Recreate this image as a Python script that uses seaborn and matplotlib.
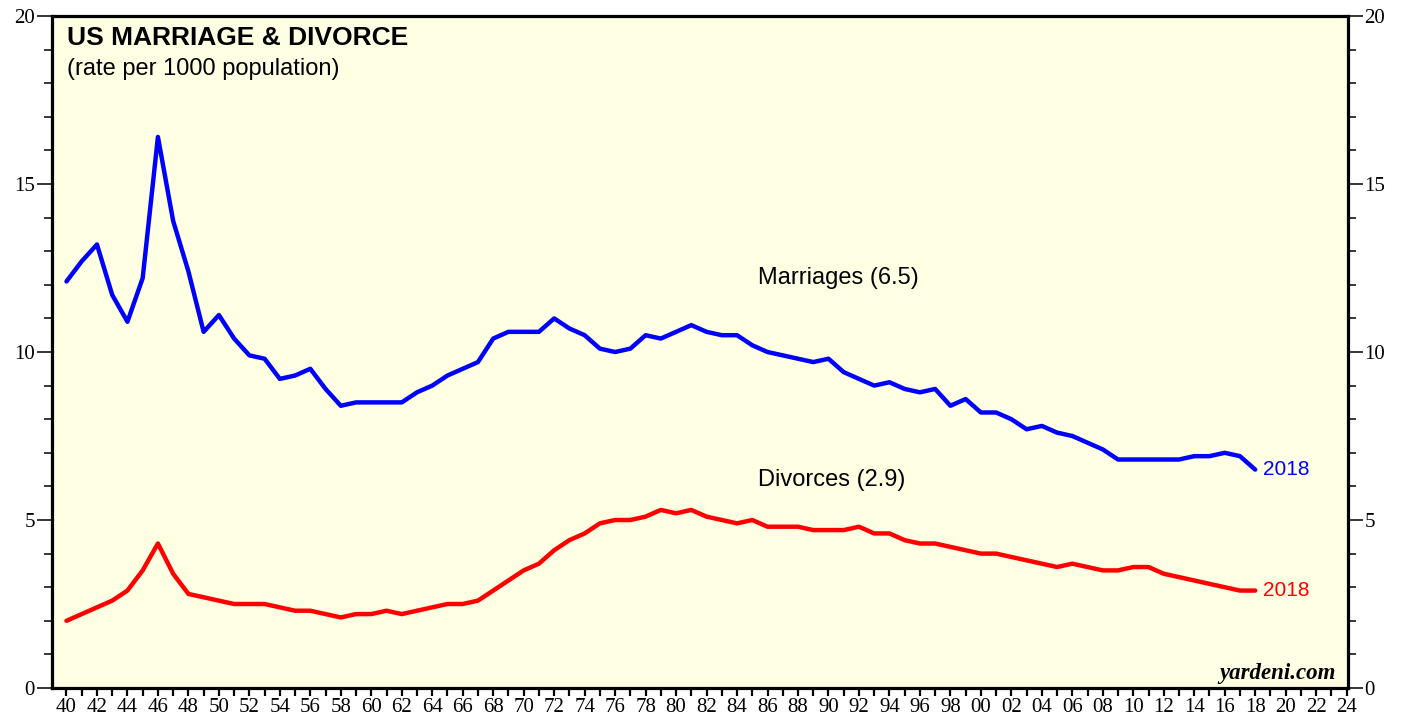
import matplotlib
matplotlib.use("Agg")
import matplotlib.pyplot as plt
from matplotlib.ticker import MultipleLocator, FuncFormatter
import seaborn as sns
import pandas as pd

years = list(range(1940, 2019))
marriages = [12.1, 12.7, 13.2, 11.7, 10.9, 12.2, 16.4, 13.9, 12.4, 10.6,
             11.1, 10.4, 9.9, 9.8, 9.2, 9.3, 9.5, 8.9, 8.4, 8.5,
             8.5, 8.5, 8.5, 8.8, 9.0, 9.3, 9.5, 9.7, 10.4, 10.6,
             10.6, 10.6, 11.0, 10.7, 10.5, 10.1, 10.0, 10.1, 10.5, 10.4,
             10.6, 10.8, 10.6, 10.5, 10.5, 10.2, 10.0, 9.9, 9.8, 9.7,
             9.8, 9.4, 9.2, 9.0, 9.1, 8.9, 8.8, 8.9, 8.4, 8.6,
             8.2, 8.2, 8.0, 7.7, 7.8, 7.6, 7.5, 7.3, 7.1, 6.8,
             6.8, 6.8, 6.8, 6.8, 6.9, 6.9, 7.0, 6.9, 6.5]
divorces = [2.0, 2.2, 2.4, 2.6, 2.9, 3.5, 4.3, 3.4, 2.8, 2.7,
            2.6, 2.5, 2.5, 2.5, 2.4, 2.3, 2.3, 2.2, 2.1, 2.2,
            2.2, 2.3, 2.2, 2.3, 2.4, 2.5, 2.5, 2.6, 2.9, 3.2,
            3.5, 3.7, 4.1, 4.4, 4.6, 4.9, 5.0, 5.0, 5.1, 5.3,
            5.2, 5.3, 5.1, 5.0, 4.9, 5.0, 4.8, 4.8, 4.8, 4.7,
            4.7, 4.7, 4.8, 4.6, 4.6, 4.4, 4.3, 4.3, 4.2, 4.1,
            4.0, 4.0, 3.9, 3.8, 3.7, 3.6, 3.7, 3.6, 3.5, 3.5,
            3.6, 3.6, 3.4, 3.3, 3.2, 3.1, 3.0, 2.9, 2.9]

title = "US MARRIAGE & DIVORCE"
subtitle = "(rate per 1000 population)"
marr_label = "Marriages (6.5)"
div_label = "Divorces (2.9)"
last_label = "2018"
source = "yardeni.com"

df = pd.DataFrame({"year": years, "Marriages": marriages, "Divorces": divorces})

sns.set_theme(style="ticks")
plt.rcParams["font.family"] = ["Liberation Sans", "DejaVu Sans"]
plt.rcParams["text.color"] = "black"
plt.rcParams["xtick.color"] = "black"
plt.rcParams["ytick.color"] = "black"

fig = plt.figure(figsize=(14.07, 7.19), dpi=100, facecolor="white")
ax = fig.add_axes([51.7 / 1407, 1 - 688 / 719, (1347.7 - 51.7) / 1407, 672 / 719])
ax.set_facecolor("#FFFFE3")

sns.lineplot(data=df, x="year", y="Marriages", ax=ax, color="#0000FF", lw=3.2)
sns.lineplot(data=df, x="year", y="Divorces", ax=ax, color="#FF0000", lw=3.2)

ax.set_xlim(1939.03, 2024.07)
ax.set_ylim(0, 20)
ax.set_xlabel("")
ax.set_ylabel("")

for s in ax.spines.values():
    s.set_linewidth(2.3)
    s.set_color("black")
    s.set_visible(True)

ax.xaxis.set_major_locator(MultipleLocator(2))
ax.xaxis.set_minor_locator(MultipleLocator(1))
ax.xaxis.set_major_formatter(FuncFormatter(lambda v, p: f"{int(round(v)) % 100:02d}"))
ax.yaxis.set_major_locator(MultipleLocator(5))
ax.yaxis.set_minor_locator(MultipleLocator(1))
ax.yaxis.set_ticks_position("both")

serif = ["Liberation Serif", "DejaVu Serif"]
tick_fs = 15
ax.tick_params(axis="x", which="both", direction="out", length=5.5, width=1.6,
               color="black", pad=2)
ax.tick_params(axis="x", which="major", labelsize=tick_fs, labelcolor="black")
ax.tick_params(axis="y", which="major", direction="out", length=11, width=1.1,
               color="black", labelleft=True, labelright=True, labelsize=tick_fs,
               labelcolor="black", pad=1)
ax.tick_params(axis="y", which="minor", direction="out", length=6, width=1.1, color="black")
for t in ax.yaxis.get_major_ticks():
    t.label1.set_fontfamily(serif)
    t.label2.set_fontfamily(serif)
    t.label2.set_fontsize(tick_fs)
    t.label2.set_color("black")
for t in ax.xaxis.get_major_ticks():
    t.label1.set_fontfamily(serif)

ax.text(0.0118, 0.985, title, transform=ax.transAxes, fontsize=19, fontweight="bold",
        ha="left", va="top", color="black")
ax.text(0.0118, 0.938, subtitle, transform=ax.transAxes, fontsize=17,
        ha="left", va="top", color="black")

ax.text(1985.37, 12.2, marr_label, fontsize=17, ha="left", va="center", color="black")
ax.text(1985.37, 6.18, div_label, fontsize=17, ha="left", va="center", color="black")
ax.text(2018.5, marriages[-1], last_label, fontsize=15, ha="left", va="center", color="#0000FF")
ax.text(2018.5, divorces[-1], last_label, fontsize=15, ha="left", va="center", color="#FF0000")

ax.text(0.991, 0.021, source, transform=ax.transAxes, fontsize=16.5, fontweight="bold",
        fontstyle="italic", family=serif, ha="right", va="center", color="black")

fig.savefig("out.png", dpi=100, facecolor="white")
